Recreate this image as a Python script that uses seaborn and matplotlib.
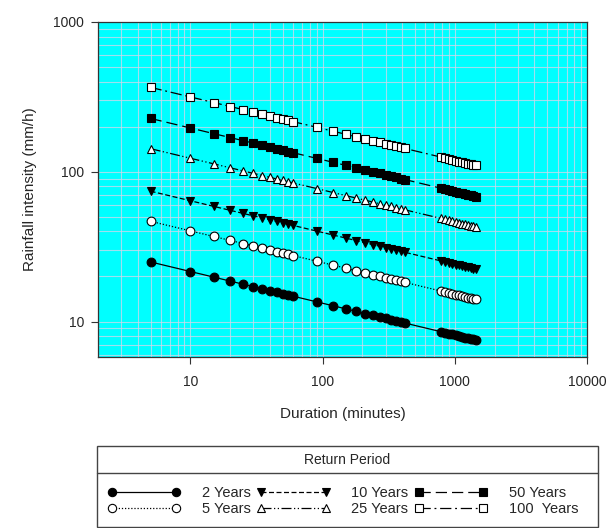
import numpy as np
import pandas as pd
import seaborn as sns
import matplotlib
matplotlib.use("Agg")
import matplotlib.pyplot as plt
from matplotlib.patches import Rectangle
from matplotlib.lines import Line2D
from matplotlib.ticker import LogLocator, NullFormatter, FixedLocator, FixedFormatter

# ---------------- data ----------------
durations = [5, 10, 15, 20, 25, 30, 35, 40, 45, 50, 55, 60,
             90, 120, 150, 180, 210, 240, 270, 300, 330, 360, 390, 420,
             780, 840, 900, 960, 1020, 1080, 1140, 1200, 1260, 1320, 1380, 1440]

yr2 = [25.0, 21.58, 19.81, 18.63, 17.77, 17.10, 16.55, 16.09, 15.69, 15.35, 15.04, 14.76,
       13.55, 12.75, 12.16, 11.70, 11.32, 11.00, 10.73, 10.50, 10.29, 10.10, 9.93, 9.77,
       8.57, 8.44, 8.32, 8.20, 8.10, 8.00, 7.91, 7.82, 7.74, 7.67, 7.60, 7.53]
yr5 = [46.7, 40.32, 37.00, 34.81, 33.20, 31.94, 30.92, 30.05, 29.31, 28.66, 28.09, 27.58,
       25.31, 23.81, 22.71, 21.85, 21.15, 20.55, 20.05, 19.60, 19.21, 18.86, 18.54, 18.26,
       16.01, 15.76, 15.53, 15.32, 15.13, 14.94, 14.77, 14.61, 14.46, 14.32, 14.19, 14.06]
yr10 = [74.2, 64.06, 58.78, 55.30, 52.75, 50.75, 49.12, 47.75, 46.57, 45.54, 44.63, 43.82,
        40.21, 37.83, 36.08, 34.71, 33.60, 32.66, 31.85, 31.15, 30.53, 29.97, 29.46, 29.00,
        25.44, 25.04, 24.68, 24.35, 24.03, 23.74, 23.47, 23.22, 22.98, 22.75, 22.54, 22.33]
yr25 = [142.6, 123.1, 113.0, 106.3, 101.4, 97.5, 94.4, 91.8, 89.5, 87.5, 85.8, 84.2,
        77.3, 72.7, 69.3, 66.7, 64.6, 62.8, 61.2, 59.9, 58.7, 57.6, 56.6, 55.7,
        48.9, 48.1, 47.4, 46.8, 46.2, 45.6, 45.1, 44.6, 44.2, 43.7, 43.3, 42.9]
yr50 = [227.0, 196.0, 179.8, 169.2, 161.4, 155.3, 150.3, 146.1, 142.5, 139.3, 136.5, 134.0,
        123.0, 115.7, 110.4, 106.2, 102.8, 99.9, 97.5, 95.3, 93.4, 91.7, 90.1, 88.7,
        77.8, 76.6, 75.5, 74.5, 73.5, 72.6, 71.8, 71.0, 70.3, 69.6, 69.0, 68.3]
yr100 = [366.0, 316.0, 289.9, 272.8, 260.2, 250.3, 242.3, 235.5, 229.7, 224.7, 220.1, 216.1,
         198.3, 186.6, 177.9, 171.2, 165.7, 161.1, 157.1, 153.6, 150.6, 147.8, 145.3, 143.1,
         125.5, 123.5, 121.7, 120.1, 118.5, 117.1, 115.8, 114.5, 113.4, 112.2, 111.2, 110.2]

series_labels = ["2 Years", "5 Years", "10 Years", "25 Years", "50 Years", "100  Years"]
x_ticks = [10, 100, 1000, 10000]
x_ticklabels = ["10", "100", "1000", "10000"]
y_ticks = [10, 100, 1000]
y_ticklabels = ["10", "100", "1000"]

# ---------------- styling ----------------
sns.set_style("white")
plt.rcParams["font.family"] = ["Liberation Sans", "DejaVu Sans"]

W, H = 608, 528
fig = plt.figure(figsize=(W / 100, H / 100), dpi=100)

def fx(px):
    return px / W

def fy(py):
    return 1 - py / H

ax = fig.add_axes([fx(98), fy(357), fx(587) - fx(98), fy(22) - fy(357)])
ax.set_facecolor("#00FFFF")

styles = [
    dict(marker="o", mfc="black", linestyle="-"),
    dict(marker="o", mfc="white", linestyle=(0, (1, 1.5))),
    dict(marker="v", mfc="black", linestyle=(0, (4, 2))),
    dict(marker="^", mfc="white", linestyle=(0, (8, 2, 1, 2, 1, 2))),
    dict(marker="s", mfc="black", linestyle=(0, (9, 4))),
    dict(marker="s", mfc="white", linestyle=(0, (9, 3, 1.5, 3))),
]
msizes = [6.3, 6.3, 6.3, 6.3, 5.8, 5.8]
all_series = [yr2, yr5, yr10, yr25, yr50, yr100]

for vals, lab, st, ms in zip(all_series, series_labels, styles, msizes):
    df = pd.DataFrame({"Duration": durations, "Intensity": vals})
    sns.lineplot(data=df, x="Duration", y="Intensity", ax=ax, color="black",
                 linewidth=0.9, marker=st["marker"], markersize=ms,
                 markerfacecolor=st["mfc"], markeredgecolor="black",
                 markeredgewidth=0.8, linestyle=st["linestyle"], label=lab,
                 legend=False, zorder=3)

ax.set_xscale("log")
ax.set_yscale("log")
ax.set_xlim(2, 10000)
ax.set_ylim(5.8, 1000)

ax.xaxis.set_major_locator(FixedLocator(x_ticks))
ax.xaxis.set_major_formatter(FixedFormatter(x_ticklabels))
ax.yaxis.set_major_locator(FixedLocator(y_ticks))
ax.yaxis.set_major_formatter(FixedFormatter(y_ticklabels))
ax.xaxis.set_minor_locator(LogLocator(base=10, subs=np.arange(2, 10)))
ax.yaxis.set_minor_locator(LogLocator(base=10, subs=np.arange(2, 10)))
ax.xaxis.set_minor_formatter(NullFormatter())
ax.yaxis.set_minor_formatter(NullFormatter())

ax.grid(True, which="both", color="#d6d6ea", linewidth=0.8, alpha=0.75, zorder=0)
ax.set_axisbelow(True)

ax.tick_params(axis="both", which="major", direction="out", length=5, width=0.8,
               color="#333333", labelsize=10, bottom=True, left=True, pad=5)
ax.tick_params(axis="x", which="major", pad=8)
ax.tick_params(axis="both", which="minor", length=0)
for s in ax.spines.values():
    s.set_color("#333333")
    s.set_linewidth(0.9)

ax.set_xlabel("Duration (minutes)", fontsize=11, labelpad=13)
ax.set_ylabel("Rainfall intensity (mm/h)", fontsize=11, labelpad=12)

# ---------------- legend box ----------------
box = Rectangle((fx(97), fy(527)), fx(598) - fx(97), fy(446) - fy(527),
                transform=fig.transFigure, fill=False, edgecolor="#444444",
                linewidth=1.0)
fig.patches.append(box)
fig.lines.append(Line2D([fx(97), fx(598)], [fy(473), fy(473)],
                        transform=fig.transFigure, color="#444444", linewidth=1.0))
fig.text(fx(347), fy(460), "Return Period", ha="center", va="center", fontsize=10)

handles, labels = ax.get_legend_handles_labels()
leg = fig.legend(handles, labels, ncol=3, loc="center",
                 bbox_to_anchor=(fx(343), fy(501)), frameon=False,
                 numpoints=2, handlelength=5.0, handletextpad=1.45,
                 columnspacing=0.45, labelspacing=0.12, fontsize=10.5,
                 borderpad=0, markerscale=0.95)

fig.savefig("out.png", dpi=100)
